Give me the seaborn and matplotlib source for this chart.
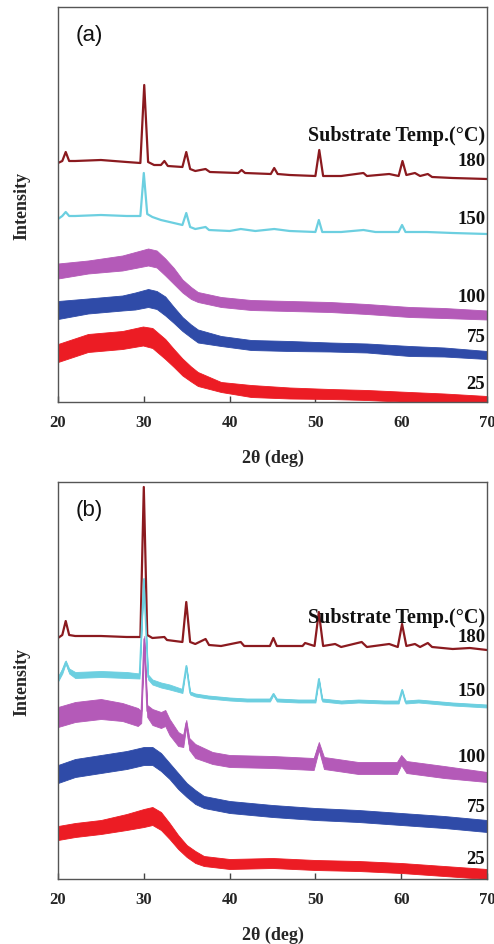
import numpy as np
import pandas as pd
import matplotlib
matplotlib.use("Agg")
import matplotlib.pyplot as plt
import seaborn as sns

# ---------------- data ----------------
temps = ["180", "150", "100", "75", "25"]
colors = ["#8B1A1F", "#6CCFE0", "#B45AB8", "#2F4BA8", "#EC1C24"]
x_ticks = [20, 30, 40, 50, 60, 70]

# panel (a)
a180_x = [20, 20.5, 20.9, 21.3, 22, 25, 28, 29.6, 30.05, 30.5, 31.2, 32.0, 32.4, 32.8, 34.5, 34.95, 35.4, 36.0,
          37.2, 37.7, 41.0, 41.4, 41.8, 44.8, 45.2, 45.6, 47, 50.0, 50.45, 50.9, 53, 55.6, 56, 58.6, 59.7, 60.15,
          60.6, 61.6, 62.2, 63.1, 63.6, 66, 70]
a180_y = [239, 241, 250, 241, 241, 242, 240, 239, 317, 240, 237, 237, 241, 236, 235, 250, 233, 231, 233, 230,
          229, 232, 229, 228, 234, 228, 227, 226, 252, 226, 226, 229, 226, 228, 226, 241, 227, 229, 226, 228,
          225, 224, 223]
a150_x = [20, 20.5, 20.9, 21.3, 22, 25, 28, 29.6, 30.0, 30.4, 31, 32, 33, 34.5, 34.95, 35.4, 36, 37.2, 37.6, 40,
          41.3, 43, 45.2, 47, 50.0, 50.4, 50.8, 53, 55.6, 57, 59.7, 60.1, 60.5, 63, 66, 70]
a150_y = [183, 186, 190, 186, 186, 187, 186, 186, 229, 188, 185, 182, 180, 177, 189, 175, 173, 175, 172, 171,
          173, 171, 173, 171, 170, 182, 170, 170, 172, 170, 170, 177, 170, 170, 169, 168]
a_amorph_x = [20, 23.5, 27.5, 29, 30.5, 31.5, 32.5, 33.5, 34.5, 35.5, 36.3, 39, 42.5, 47, 51.7, 56, 61, 65, 70]
a100_y = [131, 135, 139, 142, 145, 143, 135, 126, 116, 109, 105, 100, 97, 96, 95, 93, 90, 89, 87]
a100_w = [7.5, 6.5, 7.5, 8, 8.5, 8.5, 8.5, 8, 6.5, 6, 5, 5, 5, 5, 5, 5, 5, 5, 4.5]
a75_y = [92, 96, 99, 101, 104, 102, 96, 87, 78, 71, 66, 61, 57, 56, 55, 54, 51, 50, 47]
a75_w = [9, 7.5, 7.5, 8.5, 9, 9, 9.5, 8, 7, 6.5, 6.5, 5, 5, 5, 4.5, 4.5, 5, 4.5, 4]
a25_x = [20, 23.5, 27.5, 29.9, 31, 32.5, 33.5, 34.5, 35.5, 36.3, 39, 42.5, 47, 51.7, 56, 61, 65, 70]
a25_y = [49, 59, 62, 66, 64, 53, 44, 35, 28, 23, 15, 11, 9, 8, 7, 5, 4, 2]
a25_w = [9, 9, 9, 9.5, 10, 10, 9, 8.5, 7.5, 7, 5, 6, 5.5, 5, 5, 5, 4.5, 4]

# panel (b)
b180_x = [20, 20.5, 20.9, 21.3, 22, 25, 28, 29.6, 30.0, 30.4, 31, 32.4, 32.7, 34.5, 34.95, 35.4, 36, 37.2, 37.6,
          39, 41.3, 41.7, 44.7, 45.1, 45.5, 48.5, 48.8, 49.9, 50.4, 50.9, 52.3, 53, 55.4, 56, 58.6, 59.6, 60.1,
          60.6, 61.6, 62.2, 63.1, 63.6, 66, 68, 70]
b180_y = [241, 244, 258, 244, 243, 243, 242, 242, 392, 244, 241, 242, 239, 237, 277, 237, 235, 240, 234, 233,
          237, 233, 233, 241, 233, 233, 236, 233, 267, 233, 235, 232, 237, 232, 235, 232, 255, 233, 235, 232,
          236, 232, 230, 231, 229]
b150_x = [20, 20.5, 20.9, 21.3, 22, 25, 28, 29.5, 30.0, 30.5, 31, 32, 33, 34.5, 34.95, 35.4, 36, 37.5, 40, 42,
          44.7, 45.1, 45.5, 48, 50.0, 50.4, 50.8, 53, 55, 58, 59.7, 60.1, 60.5, 62, 66, 70]
b150_y = [200, 208, 217, 208, 204, 205, 204, 203, 300, 202, 197, 194, 192, 188, 213, 186, 184, 182, 180, 179,
          179, 185, 179, 178, 178, 200, 179, 177, 178, 177, 177, 189, 177, 178, 175, 173]
b150_w = [2.5, 2.5, 1.5, 2.5, 3, 3, 3, 2.5, 1, 2.5, 2.5, 2.5, 2.5, 2, 1, 1.5, 1.5, 1.5, 1.5, 1.5,
          1.5, 1, 1.5, 1.5, 1.5, 1, 1.5, 1.5, 1.5, 1.5, 1.5, 1, 1.5, 1.5, 1.5, 1.5]
b100_x = [20, 22, 25, 27.5, 29.3, 29.7, 30.05, 30.4, 31, 32, 32.5, 33, 34, 34.6, 34.95, 35.3, 36, 38, 40, 45,
          49.8, 50.4, 51, 55, 59.5, 60.0, 60.6, 65, 70]
b100_y = [162, 167, 170, 167, 162, 162, 240, 168, 162, 159, 161, 152, 140, 138, 156, 135, 128, 121, 118, 117,
          115, 133, 116, 111, 111, 119, 112, 107, 102]
b100_w = [10, 10, 10, 9, 9, 6, 3, 6, 8, 8, 8, 8, 7, 6, 3, 6, 7, 6, 6, 6, 6, 4, 6, 6, 6, 5, 6, 6, 5]
b_amorph_x = [20, 22, 25, 28, 30, 31, 32, 33, 34, 35, 36, 37, 40, 45, 50, 55, 60, 65, 70]
b75_y = [105, 111, 115, 119, 123, 123, 117, 108, 98, 89, 82, 77, 72, 68, 65, 63, 60, 57, 53]
b75_w = [9, 9, 9, 9, 9, 9, 9, 8, 8, 7, 7, 6, 6, 6, 6, 6, 6, 6, 6]
b25_y = [46, 49, 52, 57, 61, 63, 58, 48, 37, 28, 22, 18, 15, 16, 14, 13, 11, 8, 5]
b25_w = [7, 7, 7, 8, 9, 9, 9, 8, 7, 6, 6, 5, 5, 5, 5, 5, 5, 5, 5]

panel_a = [(a180_x, a180_y, None), (a150_x, a150_y, None), (a_amorph_x, a100_y, a100_w),
           (a_amorph_x, a75_y, a75_w), (a25_x, a25_y, a25_w)]
panel_b = [(b180_x, b180_y, None), (b150_x, b150_y, b150_w), (b100_x, b100_y, b100_w),
           (b_amorph_x, b75_y, b75_w), (b_amorph_x, b25_y, b25_w)]

# label positions (in data units) for the temperature labels
label_y_a = [241, 183, 105, 65, 18]
label_y_b = [243, 188, 123, 72, 20]
title_y_a = 267
title_y_b = 262

# ---------------- figure ----------------
sns.set_theme(style="white")
plt.rcParams["font.family"] = ["Liberation Serif", "DejaVu Serif"]

W, H = 494, 945
fig = plt.figure(figsize=(W / 100, H / 100), dpi=100)
L, R = 58 / W, 487 / W
ax_a = fig.add_axes([L, (H - 403) / H, R - L, 395 / H])
ax_b = fig.add_axes([L, (H - 880) / H, R - L, 397 / H])

serif_bold = dict(family=["Liberation Serif", "DejaVu Serif"], weight="bold")


def draw_panel(ax, curves, ymax, tag, label_y, title_y):
    for (xs, ys, ws), c in zip(curves, colors):
        df = pd.DataFrame({"two_theta": xs, "intensity": ys})
        if ws is not None:
            lo = [y - w for y, w in zip(ys, ws)]
            hi = [y + w for y, w in zip(ys, ws)]
            ax.fill_between(xs, lo, hi, color=c, lw=0.6, edgecolor=c)
            sns.lineplot(data=df, x="two_theta", y="intensity", ax=ax, color=c, lw=1.2,
                         estimator=None, sort=False)
        else:
            sns.lineplot(data=df, x="two_theta", y="intensity", ax=ax, color=c, lw=1.6,
                         estimator=None, sort=False)
    ax.set_xlim(20, 70)
    ax.set_ylim(0, ymax)
    ax.set_xticks(x_ticks)
    ax.set_xticklabels([str(t) for t in x_ticks], **serif_bold, fontsize=12)
    ax.set_yticks([])
    ax.tick_params(axis="x", direction="in", length=4, width=1, color="#444444", pad=9, bottom=True)
    for s in ax.spines.values():
        s.set_color("#555555")
        s.set_linewidth(1.0)
    ax.set_xlabel("2θ (deg)", **serif_bold, fontsize=13, labelpad=13)
    ax.set_ylabel("Intensity", **serif_bold, fontsize=13, labelpad=20)
    ax.text(0.04, 0.93, tag, transform=ax.transAxes, fontsize=16,
            family=["Liberation Sans", "DejaVu Sans"], va="center", ha="left", color="#111111")
    ax.text(69.8, title_y, "Substrate Temp.(°C)", ha="right", va="center", fontsize=14.5,
            color="#111111", **serif_bold)
    for t, yl in zip(temps, label_y):
        ax.text(69.8, yl, t, ha="right", va="center", fontsize=13.5, color="#111111", **serif_bold)


draw_panel(ax_a, panel_a, 395, "(a)", label_y_a, title_y_a)
draw_panel(ax_b, panel_b, 397, "(b)", label_y_b, title_y_b)

fig.savefig("out.png", dpi=100)
